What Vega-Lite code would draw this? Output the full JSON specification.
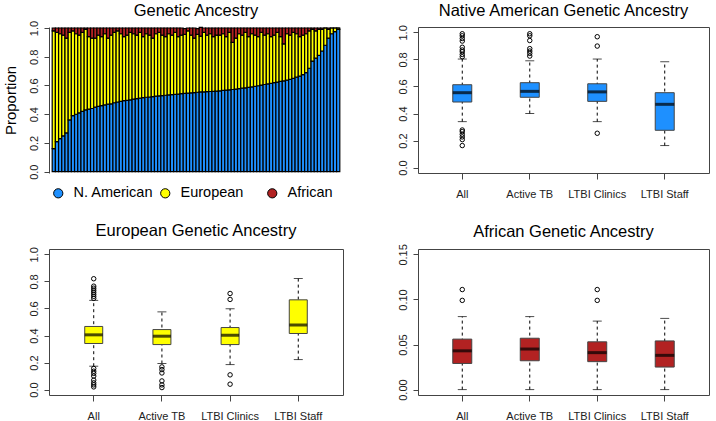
{
  "$schema": "https://vega.github.io/schema/vega-lite/v6.json",
  "padding": {"left": 3, "top": 2, "right": 5, "bottom": 5},
  "columns": 2,
  "spacing": {"row": 22, "column": 52},
  "datasets": {
    "indiv": [
      {"id":0,"nam":0.16,"eur":0.82,"afr":0.02},{"id":1,"nam":0.21,"eur":0.76,"afr":0.03},{"id":2,"nam":0.23,"eur":0.73,"afr":0.04},
      {"id":3,"nam":0.25,"eur":0.70,"afr":0.05},{"id":4,"nam":0.27,"eur":0.66,"afr":0.07},{"id":5,"nam":0.36,"eur":0.61,"afr":0.03},
      {"id":6,"nam":0.39,"eur":0.59,"afr":0.02},{"id":7,"nam":0.40,"eur":0.56,"afr":0.04},{"id":8,"nam":0.41,"eur":0.54,"afr":0.05},
      {"id":9,"nam":0.42,"eur":0.55,"afr":0.03},{"id":10,"nam":0.43,"eur":0.56,"afr":0.01},{"id":11,"nam":0.435,"eur":0.505,"afr":0.06},
      {"id":12,"nam":0.44,"eur":0.49,"afr":0.07},{"id":13,"nam":0.45,"eur":0.48,"afr":0.07},{"id":14,"nam":0.455,"eur":0.495,"afr":0.05},
      {"id":15,"nam":0.46,"eur":0.48,"afr":0.06},{"id":16,"nam":0.465,"eur":0.495,"afr":0.04},{"id":17,"nam":0.47,"eur":0.46,"afr":0.07},
      {"id":18,"nam":0.472,"eur":0.478,"afr":0.05},{"id":19,"nam":0.48,"eur":0.49,"afr":0.03},{"id":20,"nam":0.485,"eur":0.495,"afr":0.02},
      {"id":21,"nam":0.49,"eur":0.47,"afr":0.04},{"id":22,"nam":0.494,"eur":0.446,"afr":0.06},{"id":23,"nam":0.497,"eur":0.453,"afr":0.05},
      {"id":24,"nam":0.50,"eur":0.47,"afr":0.03},{"id":25,"nam":0.505,"eur":0.455,"afr":0.04},{"id":26,"nam":0.508,"eur":0.442,"afr":0.05},
      {"id":27,"nam":0.512,"eur":0.458,"afr":0.03},{"id":28,"nam":0.515,"eur":0.425,"afr":0.06},{"id":29,"nam":0.518,"eur":0.442,"afr":0.04},
      {"id":30,"nam":0.52,"eur":0.43,"afr":0.05},{"id":31,"nam":0.523,"eur":0.407,"afr":0.07},{"id":32,"nam":0.526,"eur":0.434,"afr":0.04},
      {"id":33,"nam":0.528,"eur":0.442,"afr":0.03},{"id":34,"nam":0.53,"eur":0.42,"afr":0.05},{"id":35,"nam":0.532,"eur":0.408,"afr":0.06},
      {"id":36,"nam":0.534,"eur":0.426,"afr":0.04},{"id":37,"nam":0.536,"eur":0.414,"afr":0.05},{"id":38,"nam":0.538,"eur":0.432,"afr":0.03},
      {"id":39,"nam":0.54,"eur":0.40,"afr":0.06},{"id":40,"nam":0.543,"eur":0.407,"afr":0.05},{"id":41,"nam":0.545,"eur":0.411,"afr":0.04},
      {"id":42,"nam":0.547,"eur":0.433,"afr":0.02},{"id":43,"nam":0.549,"eur":0.401,"afr":0.05},{"id":44,"nam":0.551,"eur":0.379,"afr":0.07},
      {"id":45,"nam":0.553,"eur":0.403,"afr":0.04},{"id":46,"nam":0.555,"eur":0.389,"afr":0.06},{"id":47,"nam":0.556,"eur":0.414,"afr":0.03},
      {"id":48,"nam":0.557,"eur":0.393,"afr":0.05},{"id":49,"nam":0.558,"eur":0.402,"afr":0.04},{"id":50,"nam":0.559,"eur":0.381,"afr":0.06},
      {"id":51,"nam":0.561,"eur":0.389,"afr":0.05},{"id":52,"nam":0.563,"eur":0.387,"afr":0.05},{"id":53,"nam":0.566,"eur":0.394,"afr":0.04},
      {"id":54,"nam":0.568,"eur":0.372,"afr":0.06},{"id":55,"nam":0.57,"eur":0.40,"afr":0.03},{"id":56,"nam":0.572,"eur":0.328,"afr":0.10},
      {"id":57,"nam":0.575,"eur":0.355,"afr":0.07},{"id":58,"nam":0.578,"eur":0.382,"afr":0.04},{"id":59,"nam":0.581,"eur":0.369,"afr":0.05},
      {"id":60,"nam":0.584,"eur":0.386,"afr":0.03},{"id":61,"nam":0.587,"eur":0.353,"afr":0.06},{"id":62,"nam":0.59,"eur":0.37,"afr":0.04},
      {"id":63,"nam":0.594,"eur":0.356,"afr":0.05},{"id":64,"nam":0.598,"eur":0.342,"afr":0.06},{"id":65,"nam":0.603,"eur":0.367,"afr":0.03},
      {"id":66,"nam":0.607,"eur":0.343,"afr":0.05},{"id":67,"nam":0.611,"eur":0.349,"afr":0.04},{"id":68,"nam":0.615,"eur":0.325,"afr":0.06},
      {"id":69,"nam":0.62,"eur":0.33,"afr":0.05},{"id":70,"nam":0.624,"eur":0.346,"afr":0.03},{"id":71,"nam":0.628,"eur":0.312,"afr":0.06},
      {"id":72,"nam":0.632,"eur":0.258,"afr":0.11},{"id":73,"nam":0.637,"eur":0.323,"afr":0.04},{"id":74,"nam":0.642,"eur":0.308,"afr":0.05},
      {"id":75,"nam":0.65,"eur":0.32,"afr":0.03},{"id":76,"nam":0.658,"eur":0.302,"afr":0.04},{"id":77,"nam":0.665,"eur":0.275,"afr":0.06},
      {"id":78,"nam":0.675,"eur":0.275,"afr":0.05},{"id":79,"nam":0.69,"eur":0.27,"afr":0.04},{"id":80,"nam":0.72,"eur":0.26,"afr":0.02},
      {"id":81,"nam":0.77,"eur":0.22,"afr":0.01},{"id":82,"nam":0.79,"eur":0.19,"afr":0.02},{"id":83,"nam":0.81,"eur":0.18,"afr":0.01},
      {"id":84,"nam":0.84,"eur":0.15,"afr":0.01},{"id":85,"nam":0.88,"eur":0.12,"afr":0.0},{"id":86,"nam":0.93,"eur":0.06,"afr":0.01},
      {"id":87,"nam":0.96,"eur":0.04,"afr":0.0},{"id":88,"nam":0.975,"eur":0.025,"afr":0.0},{"id":89,"nam":0.99,"eur":0.01,"afr":0.0}
    ],
    "box": [
      {"panel":"NA","group":"All","lo":0.34,"q1":0.485,"med":0.554,"q3":0.613,"hi":0.803},
      {"panel":"NA","group":"Active TB","lo":0.40,"q1":0.52,"med":0.564,"q3":0.628,"hi":0.79},
      {"panel":"NA","group":"LTBI Clinics","lo":0.34,"q1":0.49,"med":0.56,"q3":0.62,"hi":0.803},
      {"panel":"NA","group":"LTBI Staff","lo":0.163,"q1":0.276,"med":0.468,"q3":0.554,"hi":0.783},
      {"panel":"EU","group":"All","lo":0.173,"q1":0.341,"med":0.405,"q3":0.467,"hi":0.66},
      {"panel":"EU","group":"Active TB","lo":0.193,"q1":0.333,"med":0.395,"q3":0.444,"hi":0.575},
      {"panel":"EU","group":"LTBI Clinics","lo":0.185,"q1":0.333,"med":0.402,"q3":0.459,"hi":0.598},
      {"panel":"EU","group":"LTBI Staff","lo":0.222,"q1":0.415,"med":0.477,"q3":0.664,"hi":0.822},
      {"panel":"AF","group":"All","lo":0.0,"q1":0.029,"med":0.043,"q3":0.056,"hi":0.081},
      {"panel":"AF","group":"Active TB","lo":0.0,"q1":0.032,"med":0.045,"q3":0.057,"hi":0.081},
      {"panel":"AF","group":"LTBI Clinics","lo":0.0,"q1":0.031,"med":0.041,"q3":0.053,"hi":0.076},
      {"panel":"AF","group":"LTBI Staff","lo":0.0,"q1":0.025,"med":0.038,"q3":0.054,"hi":0.079}
    ],
    "out": [
      {"panel":"NA","group":"All","v":0.99},{"panel":"NA","group":"All","v":0.975},{"panel":"NA","group":"All","v":0.955},
      {"panel":"NA","group":"All","v":0.936},{"panel":"NA","group":"All","v":0.89},{"panel":"NA","group":"All","v":0.87},
      {"panel":"NA","group":"All","v":0.857},{"panel":"NA","group":"All","v":0.837},{"panel":"NA","group":"All","v":0.82},
      {"panel":"NA","group":"All","v":0.278},{"panel":"NA","group":"All","v":0.266},{"panel":"NA","group":"All","v":0.246},
      {"panel":"NA","group":"All","v":0.227},{"panel":"NA","group":"All","v":0.207},{"panel":"NA","group":"All","v":0.163},
      {"panel":"NA","group":"Active TB","v":0.99},{"panel":"NA","group":"Active TB","v":0.975},{"panel":"NA","group":"Active TB","v":0.94},
      {"panel":"NA","group":"Active TB","v":0.88},{"panel":"NA","group":"Active TB","v":0.862},{"panel":"NA","group":"Active TB","v":0.845},
      {"panel":"NA","group":"Active TB","v":0.825},
      {"panel":"NA","group":"LTBI Clinics","v":0.968},{"panel":"NA","group":"LTBI Clinics","v":0.899},{"panel":"NA","group":"LTBI Clinics","v":0.254},
      {"panel":"EU","group":"All","v":0.82},{"panel":"EU","group":"All","v":0.765},{"panel":"EU","group":"All","v":0.75},
      {"panel":"EU","group":"All","v":0.735},{"panel":"EU","group":"All","v":0.72},{"panel":"EU","group":"All","v":0.705},
      {"panel":"EU","group":"All","v":0.69},{"panel":"EU","group":"All","v":0.675},
      {"panel":"EU","group":"All","v":0.156},{"panel":"EU","group":"All","v":0.136},{"panel":"EU","group":"All","v":0.12},
      {"panel":"EU","group":"All","v":0.10},{"panel":"EU","group":"All","v":0.07},{"panel":"EU","group":"All","v":0.05},
      {"panel":"EU","group":"All","v":0.035},{"panel":"EU","group":"All","v":0.02},
      {"panel":"EU","group":"Active TB","v":0.168},{"panel":"EU","group":"Active TB","v":0.148},{"panel":"EU","group":"Active TB","v":0.123},
      {"panel":"EU","group":"Active TB","v":0.064},{"panel":"EU","group":"Active TB","v":0.035},{"panel":"EU","group":"Active TB","v":0.015},
      {"panel":"EU","group":"LTBI Clinics","v":0.711},{"panel":"EU","group":"LTBI Clinics","v":0.667},
      {"panel":"EU","group":"LTBI Clinics","v":0.109},{"panel":"EU","group":"LTBI Clinics","v":0.04},
      {"panel":"AF","group":"All","v":0.111},{"panel":"AF","group":"All","v":0.099},
      {"panel":"AF","group":"LTBI Clinics","v":0.111},{"panel":"AF","group":"LTBI Clinics","v":0.099}
    ]
  },
  "concat": [
    {
      "width": 294, "height": 146,
      "title": {"text": "Genetic Ancestry", "offset": 1},
      "view": {"stroke": null},
      "data": {"name": "indiv"},
      "transform": [{"fold": ["nam", "eur", "afr"], "as": ["anc", "prop"]}],
      "mark": {"type": "bar", "stroke": "black", "strokeWidth": 1.2},
      "encoding": {
        "x": {"field": "id", "type": "ordinal", "axis": null, "scale": {"paddingInner": 0, "paddingOuter": 4}},
        "y": {"field": "prop", "type": "quantitative", "stack": "zero",
              "scale": {"domain": [-0.009, 1.007], "nice": false, "zero": false},
              "axis": {"values": [0, 0.2, 0.4, 0.6, 0.8, 1.0], "format": ".1f", "title": "Proportion", "labelOverlap": false,
                       "titleFontSize": 15, "titleFontWeight": "normal", "titleColor": "black", "titlePadding": 10}},
        "color": {"field": "anc", "type": "nominal",
                  "scale": {"domain": ["nam", "eur", "afr"], "range": ["#1E90FF", "#FFFF00", "#B22222"]},
                  "legend": {"orient": "none", "legendX": 2, "legendY": 159, "direction": "horizontal", "columns": 3,
                             "title": null, "symbolType": "circle", "symbolSize": 85, "symbolStrokeColor": "black",
                             "symbolStrokeWidth": 1, "labelFontSize": 14.5, "labelColor": "black", "labelOffset": 8,
                             "columnPadding": 4, "gridAlign": "all",
                             "labelExpr": "datum.label == 'nam' ? 'N. American' : datum.label == 'eur' ? 'European' : 'African'"}},
        "order": {"field": "anc", "sort": "descending"}
      }
    },
    {
      "width": 291, "height": 146,
      "title": {"text": "Native American Genetic Ancestry", "offset": 5},
      "encoding": {
        "x": {"field": "group", "type": "nominal", "sort": ["All", "Active TB", "LTBI Clinics", "LTBI Staff"],
              "scale": {"paddingInner": 0, "paddingOuter": 0.156},
              "axis": {"title": null, "labelAngle": 0, "domain": false, "labelPadding": 9, "tickSize": 6}}
      },
      "layer": [
        {"data": {"name": "box"}, "transform": [{"filter": "datum.panel === 'NA'"}],
         "mark": {"type": "rule", "strokeDash": [3, 3], "color": "black"},
         "encoding": {
           "y": {"field": "lo", "type": "quantitative", "scale": {"domain": [-0.04, 1.04], "nice": false, "zero": false},
                 "axis": {"values": [0, 0.2, 0.4, 0.6, 0.8, 1.0], "format": ".1f", "title": null, "domain": false, "labelOverlap": false}},
           "y2": {"field": "hi"}}},
        {"data": {"name": "box"}, "transform": [{"filter": "datum.panel === 'NA'"}],
         "mark": {"type": "tick", "orient": "horizontal", "size": 9, "thickness": 1, "color": "black"},
         "encoding": {"y": {"field": "lo", "type": "quantitative", "axis": {"values": [0, 0.2, 0.4, 0.6, 0.8, 1.0], "format": ".1f", "title": null, "domain": false, "labelOverlap": false}}}},
        {"data": {"name": "box"}, "transform": [{"filter": "datum.panel === 'NA'"}],
         "mark": {"type": "tick", "orient": "horizontal", "size": 9, "thickness": 1, "color": "black"},
         "encoding": {"y": {"field": "hi", "type": "quantitative", "axis": {"values": [0, 0.2, 0.4, 0.6, 0.8, 1.0], "format": ".1f", "title": null, "domain": false, "labelOverlap": false}}}},
        {"data": {"name": "box"}, "transform": [{"filter": "datum.panel === 'NA'"}],
         "mark": {"type": "bar", "size": 19, "fill": "#1E90FF", "stroke": "#444", "strokeWidth": 1},
         "encoding": {"y": {"field": "q1", "type": "quantitative", "axis": {"values": [0, 0.2, 0.4, 0.6, 0.8, 1.0], "format": ".1f", "title": null, "domain": false, "labelOverlap": false}}, "y2": {"field": "q3"}}},
        {"data": {"name": "box"}, "transform": [{"filter": "datum.panel === 'NA'"}],
         "mark": {"type": "tick", "orient": "horizontal", "size": 19, "thickness": 3, "color": "black"},
         "encoding": {"y": {"field": "med", "type": "quantitative", "axis": {"values": [0, 0.2, 0.4, 0.6, 0.8, 1.0], "format": ".1f", "title": null, "domain": false, "labelOverlap": false}}}},
        {"data": {"name": "out"}, "transform": [{"filter": "datum.panel === 'NA'"}],
         "mark": {"type": "point", "shape": "circle", "filled": false, "stroke": "black", "strokeWidth": 1, "size": 20, "opacity": 1},
         "encoding": {"y": {"field": "v", "type": "quantitative", "axis": {"values": [0, 0.2, 0.4, 0.6, 0.8, 1.0], "format": ".1f", "title": null, "domain": false, "labelOverlap": false}}}}
      ]
    },
    {
      "width": 294, "height": 146,
      "title": {"text": "European Genetic Ancestry", "offset": 7},
      "encoding": {
        "x": {"field": "group", "type": "nominal", "sort": ["All", "Active TB", "LTBI Clinics", "LTBI Staff"],
              "scale": {"paddingInner": 0, "paddingOuter": 0.156},
              "axis": {"title": null, "labelAngle": 0, "domain": false, "labelPadding": 9, "tickSize": 6}}
      },
      "layer": [
        {"data": {"name": "box"}, "transform": [{"filter": "datum.panel === 'EU'"}],
         "mark": {"type": "rule", "strokeDash": [3, 3], "color": "black"},
         "encoding": {
           "y": {"field": "lo", "type": "quantitative", "scale": {"domain": [-0.04, 1.04], "nice": false, "zero": false},
                 "axis": {"values": [0, 0.2, 0.4, 0.6, 0.8, 1.0], "format": ".1f", "title": null, "domain": false, "labelOverlap": false}},
           "y2": {"field": "hi"}}},
        {"data": {"name": "box"}, "transform": [{"filter": "datum.panel === 'EU'"}],
         "mark": {"type": "tick", "orient": "horizontal", "size": 9, "thickness": 1, "color": "black"},
         "encoding": {"y": {"field": "lo", "type": "quantitative", "axis": {"values": [0, 0.2, 0.4, 0.6, 0.8, 1.0], "format": ".1f", "title": null, "domain": false, "labelOverlap": false}}}},
        {"data": {"name": "box"}, "transform": [{"filter": "datum.panel === 'EU'"}],
         "mark": {"type": "tick", "orient": "horizontal", "size": 9, "thickness": 1, "color": "black"},
         "encoding": {"y": {"field": "hi", "type": "quantitative", "axis": {"values": [0, 0.2, 0.4, 0.6, 0.8, 1.0], "format": ".1f", "title": null, "domain": false, "labelOverlap": false}}}},
        {"data": {"name": "box"}, "transform": [{"filter": "datum.panel === 'EU'"}],
         "mark": {"type": "bar", "size": 18, "fill": "#FFFF00", "stroke": "#444", "strokeWidth": 1},
         "encoding": {"y": {"field": "q1", "type": "quantitative", "axis": {"values": [0, 0.2, 0.4, 0.6, 0.8, 1.0], "format": ".1f", "title": null, "domain": false, "labelOverlap": false}}, "y2": {"field": "q3"}}},
        {"data": {"name": "box"}, "transform": [{"filter": "datum.panel === 'EU'"}],
         "mark": {"type": "tick", "orient": "horizontal", "size": 18, "thickness": 3, "color": "black"},
         "encoding": {"y": {"field": "med", "type": "quantitative", "axis": {"values": [0, 0.2, 0.4, 0.6, 0.8, 1.0], "format": ".1f", "title": null, "domain": false, "labelOverlap": false}}}},
        {"data": {"name": "out"}, "transform": [{"filter": "datum.panel === 'EU'"}],
         "mark": {"type": "point", "shape": "circle", "filled": false, "stroke": "black", "strokeWidth": 1, "size": 20, "opacity": 1},
         "encoding": {"y": {"field": "v", "type": "quantitative", "axis": {"values": [0, 0.2, 0.4, 0.6, 0.8, 1.0], "format": ".1f", "title": null, "domain": false, "labelOverlap": false}}}}
      ]
    },
    {
      "width": 291, "height": 146,
      "title": {"text": "African Genetic Ancestry", "offset": 3},
      "encoding": {
        "x": {"field": "group", "type": "nominal", "sort": ["All", "Active TB", "LTBI Clinics", "LTBI Staff"],
              "scale": {"paddingInner": 0, "paddingOuter": 0.156},
              "axis": {"title": null, "labelAngle": 0, "domain": false, "labelPadding": 9, "tickSize": 6}}
      },
      "layer": [
        {"data": {"name": "box"}, "transform": [{"filter": "datum.panel === 'AF'"}],
         "mark": {"type": "rule", "strokeDash": [3, 3], "color": "black"},
         "encoding": {
           "y": {"field": "lo", "type": "quantitative", "scale": {"domain": [-0.006, 0.156], "nice": false, "zero": false},
                 "axis": {"values": [0, 0.05, 0.1, 0.15], "format": ".2f", "title": null, "domain": false, "labelOverlap": false}},
           "y2": {"field": "hi"}}},
        {"data": {"name": "box"}, "transform": [{"filter": "datum.panel === 'AF'"}],
         "mark": {"type": "tick", "orient": "horizontal", "size": 9, "thickness": 1, "color": "black"},
         "encoding": {"y": {"field": "lo", "type": "quantitative", "axis": {"values": [0, 0.05, 0.1, 0.15], "format": ".2f", "title": null, "domain": false, "labelOverlap": false}}}},
        {"data": {"name": "box"}, "transform": [{"filter": "datum.panel === 'AF'"}],
         "mark": {"type": "tick", "orient": "horizontal", "size": 9, "thickness": 1, "color": "black"},
         "encoding": {"y": {"field": "hi", "type": "quantitative", "axis": {"values": [0, 0.05, 0.1, 0.15], "format": ".2f", "title": null, "domain": false, "labelOverlap": false}}}},
        {"data": {"name": "box"}, "transform": [{"filter": "datum.panel === 'AF'"}],
         "mark": {"type": "bar", "size": 19, "fill": "#B22222", "stroke": "#444", "strokeWidth": 1},
         "encoding": {"y": {"field": "q1", "type": "quantitative", "axis": {"values": [0, 0.05, 0.1, 0.15], "format": ".2f", "title": null, "domain": false, "labelOverlap": false}}, "y2": {"field": "q3"}}},
        {"data": {"name": "box"}, "transform": [{"filter": "datum.panel === 'AF'"}],
         "mark": {"type": "tick", "orient": "horizontal", "size": 19, "thickness": 3, "color": "black"},
         "encoding": {"y": {"field": "med", "type": "quantitative", "axis": {"values": [0, 0.05, 0.1, 0.15], "format": ".2f", "title": null, "domain": false, "labelOverlap": false}}}},
        {"data": {"name": "out"}, "transform": [{"filter": "datum.panel === 'AF'"}],
         "mark": {"type": "point", "shape": "circle", "filled": false, "stroke": "black", "strokeWidth": 1, "size": 20, "opacity": 1},
         "encoding": {"y": {"field": "v", "type": "quantitative", "axis": {"values": [0, 0.05, 0.1, 0.15], "format": ".2f", "title": null, "domain": false, "labelOverlap": false}}}}
      ]
    }
  ],
  "config": {
    "font": "Liberation Sans",
    "background": "white",
    "title": {"fontSize": 16.5, "fontWeight": "normal", "color": "black", "offset": 2, "font": "Liberation Sans"},
    "axis": {"labelFont": "Liberation Sans", "labelFontSize": 11, "labelColor": "#222", "tickColor": "#444",
             "domainColor": "#444", "grid": false, "tickSize": 5, "labelOverlap": false},
    "axisY": {"labelAngle": 270, "labelAlign": "center", "labelBaseline": "bottom", "labelPadding": 5},
    "legend": {"labelFont": "Liberation Sans"},
    "view": {"stroke": "#444", "strokeWidth": 1}
  }
}
